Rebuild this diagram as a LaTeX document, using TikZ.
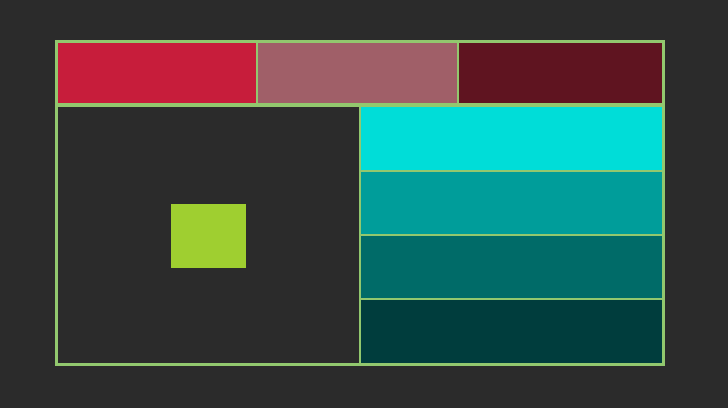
\documentclass[tikz,border=0pt]{standalone}
\begin{document}
\begin{tikzpicture}[x=1pt,y=-1pt,
  cell/.style={draw=edgegreen,line width=2pt},
]
\definecolor{bg}{HTML}{2B2B2B}
\definecolor{edgegreen}{HTML}{92C86E}
\definecolor{cA}{HTML}{C71D3B}
\definecolor{cB}{HTML}{A05F68}
\definecolor{cC}{HTML}{5F1420}
\definecolor{sA}{HTML}{00DDD8}
\definecolor{sB}{HTML}{009D9A}
\definecolor{sC}{HTML}{006B68}
\definecolor{sD}{HTML}{003D3D}
\definecolor{sq}{HTML}{9FCF30}
\fill[bg] (0,0) rectangle (728,408);
\useasboundingbox (0,0) rectangle (728,408);
% top row
\draw[cell,fill=cA] (57,42) rectangle (257,104);
\draw[cell,fill=cB] (257,42) rectangle (458,104);
\draw[cell,fill=cC] (458,42) rectangle (663,104);
% bottom left
\draw[cell,fill=bg] (57,106) rectangle (360,364);
% right stripes
\draw[cell,fill=sA] (360,106) rectangle (663,171);
\draw[cell,fill=sB] (360,171) rectangle (663,235);
\draw[cell,fill=sC] (360,235) rectangle (663,299);
\draw[cell,fill=sD] (360,299) rectangle (663,364);
% outer frame
\draw[draw=edgegreen,line width=2.5pt] (56,41) rectangle (664,365);
\draw[draw=edgegreen,line width=2pt] (56,105) -- (664,105);
% square
\fill[sq] (171,204) rectangle (246,268);
\end{tikzpicture}
\end{document}
